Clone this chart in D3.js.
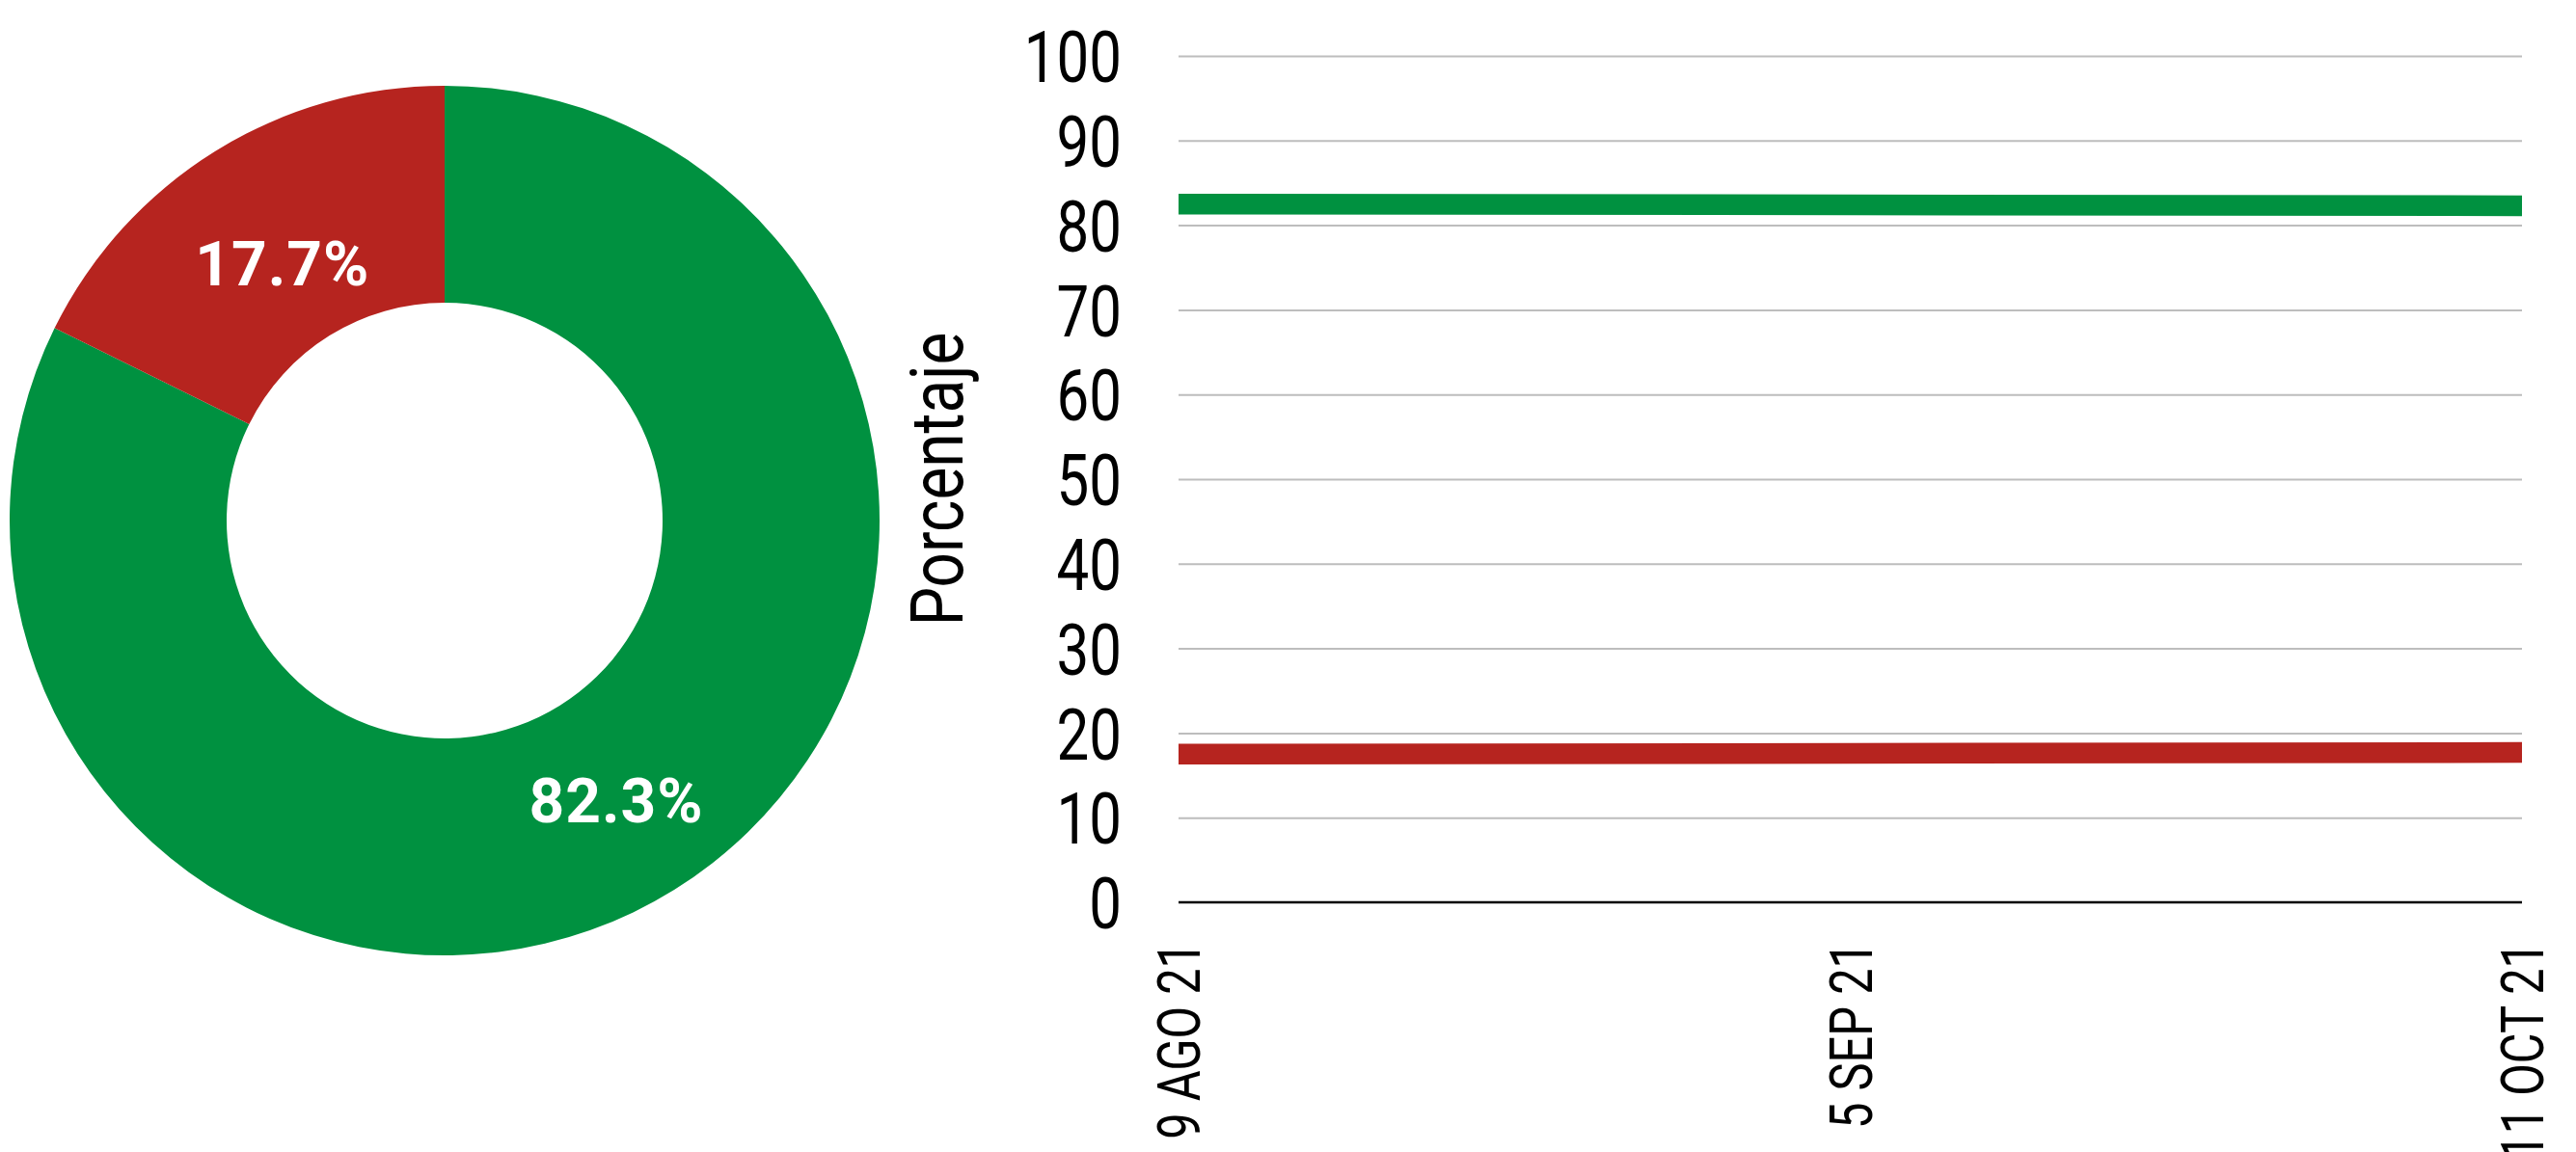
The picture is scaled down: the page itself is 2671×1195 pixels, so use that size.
<!DOCTYPE html>
<html>
<head>
<meta charset="utf-8">
<script src="https://cdn.jsdelivr.net/npm/d3@7"></script>
<style>
  html, body { margin: 0; padding: 0; background: #ffffff; }
  svg { display: block; }
</style>
</head>
<body>
<script>
// ---- data ----
const donutCategories = ["Sí", "No"];
const donutValues = [82.3, 17.7];
const donutLabels = ["82.3%", "17.7%"];

const dates = ["9 AGO 21", "5 SEP 21", "11 OCT 21"];
const seriesGreen = [82.5, 82.4, 82.3];
const seriesRed = [17.5, 17.6, 17.7];
const yTicks = [0, 10, 20, 30, 40, 50, 60, 70, 80, 90, 100];
const yTitle = "Porcentaje";

const colors = { green: "#009140", red: "#B6241F" };

// ---- layout ----
const W = 2671, H = 1195;
const svg = d3.select("body").append("svg").attr("width", W).attr("height", H);
svg.append("rect").attr("width", W).attr("height", H).attr("fill", "#fff");

// ---- donut ----
const cx = 461, cy = 540, outerR = 451, innerR = 226;
const pie = d3.pie().sort(null).value(d => d)(donutValues);
const arc = d3.arc().innerRadius(innerR).outerRadius(outerR);
const labelArc = d3.arc().innerRadius(328).outerRadius(328);
const sliceColors = [colors.green, colors.red];
const gD = svg.append("g").attr("transform", `translate(${cx},${cy})`);
gD.selectAll("path").data(pie).join("path")
  .attr("d", arc)
  .attr("fill", (d, i) => sliceColors[i]);
gD.selectAll("text").data(pie).join("text")
  .attr("transform", d => { const c = labelArc.centroid(d); return `translate(${c[0] + 5},${c[1] + 12})`; })
  .attr("text-anchor", "middle")
  .attr("dy", "0.355em")
  .attr("fill", "#fff")
  .attr("font-family", "Roboto, sans-serif")
  .attr("font-weight", "700")
  .attr("font-size", 64)
  .attr("letter-spacing", 1)
  .text((d, i) => donutLabels[i]);

// ---- line chart ----
const x0 = 1222, x1 = 2615, yTop = 58, yBot = 936;
const x = d3.scalePoint().domain(dates).range([x0, x1]);
const y = d3.scaleLinear().domain([0, 100]).range([yBot, yTop]);

// gridlines
const grid = svg.append("g").attr("transform", `translate(${x0},0)`)
  .call(d3.axisLeft(y).tickValues(yTicks.filter(t => t > 0)).tickSize(-(x1 - x0)).tickFormat(""));
grid.select(".domain").remove();
grid.selectAll(".tick line").attr("stroke", "#bdbdbd").attr("stroke-width", 2);

// y tick labels
const yAxis = svg.append("g").attr("transform", `translate(${x0},0)`)
  .call(d3.axisLeft(y).tickValues(yTicks).tickSize(0).tickFormat(d3.format("d")));
yAxis.select(".domain").remove();
yAxis.selectAll(".tick text")
  .attr("x", 0)
  .attr("dy", "0.355em")
  .attr("transform", "translate(-59,0) scale(0.8,1)")
  .attr("text-anchor", "end")
  .attr("fill", "#000")
  .attr("font-family", "Roboto, sans-serif")
  .attr("font-size", 75);

// x axis
const xAxis = svg.append("g").attr("transform", `translate(0,${yBot})`)
  .call(d3.axisBottom(x).tickSize(0));
xAxis.select(".domain").attr("stroke", "#000").attr("stroke-width", 2.5).attr("d", `M${x0},0H${x1}`);
xAxis.selectAll(".tick text")
  .attr("x", 0).attr("y", 0)
  .attr("dy", "0.355em")
  .attr("transform", "translate(0,41) rotate(-90) scale(0.8,1)")
  .attr("text-anchor", "end")
  .attr("fill", "#000")
  .attr("font-family", "Roboto, sans-serif")
  .attr("font-size", 61);

// y title
svg.append("text")
  .attr("transform", `translate(998,${(yTop + yBot) / 2}) rotate(-90) scale(0.84,1)`)
  .attr("text-anchor", "middle")
  .attr("fill", "#000")
  .attr("font-family", "Roboto, sans-serif")
  .attr("font-size", 76)
  .text(yTitle);

// lines
const line = d3.line().x((d, i) => x(dates[i])).y(d => y(d));
[[seriesGreen, colors.green], [seriesRed, colors.red]].forEach(([s, c]) => {
  svg.append("path").datum(s)
    .attr("d", line)
    .attr("fill", "none")
    .attr("stroke", c)
    .attr("stroke-width", 21.5)
    .attr("stroke-linecap", "butt");
});
</script>
</body>
</html>
